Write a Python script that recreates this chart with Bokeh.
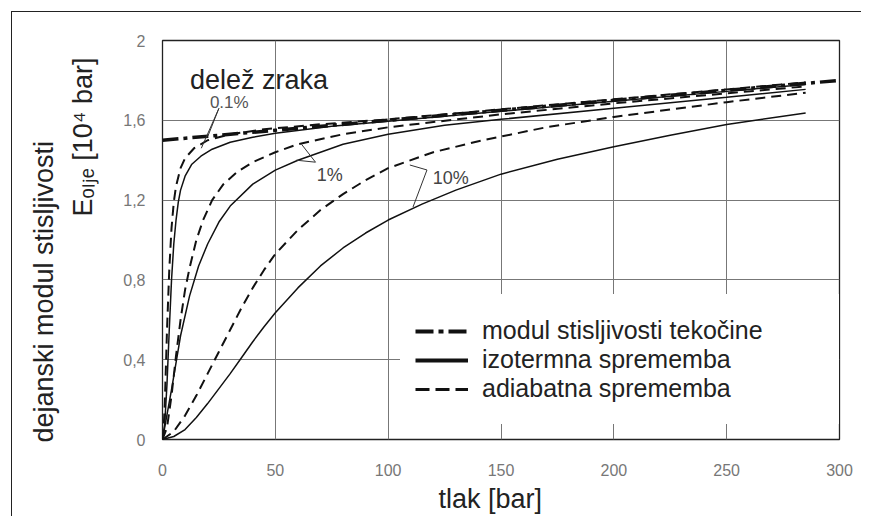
import math
from bokeh.plotting import figure
from bokeh.models import Label, Legend, LegendItem, FixedTicker, Title
from bokeh.embed import file_html
from bokeh.resources import INLINE

# ---------------- data ----------------
x_ticks = [0, 50, 100, 150, 200, 250, 300]
y_ticks = [0, 0.4, 0.8, 1.2, 1.6, 2.0]
y_tick_labels = ["0", "0,4", "0,8", "1,2", "1,6", "2"]

fluid_p = [0, 50, 100, 150, 200, 250, 300]
fluid_E = [1.50, 1.55, 1.60, 1.65, 1.70, 1.75, 1.80]

iso01_p = [0, 1, 2, 3, 4, 5, 6, 7, 8, 10, 13, 17, 22, 30, 40, 50, 75, 100, 150, 200, 250, 285]
iso01_E = [0, 0.08, 0.28, 0.55, 0.80, 0.98, 1.10, 1.19, 1.25, 1.32, 1.38, 1.42, 1.455, 1.49,
           1.515, 1.535, 1.57, 1.595, 1.645, 1.695, 1.745, 1.78]

adi01_p = [0, 0.5, 1, 1.5, 2, 3, 4, 5, 6, 8, 10, 14, 20, 30, 45, 70, 100, 150, 200, 250, 285]
adi01_E = [0, 0.05, 0.18, 0.36, 0.55, 0.85, 1.06, 1.19, 1.27, 1.36, 1.41, 1.46, 1.50, 1.53,
           1.555, 1.58, 1.605, 1.655, 1.705, 1.755, 1.79]

iso1_p = [0, 4, 8, 12, 16, 20, 25, 30, 40, 50, 60, 80, 100, 125, 150, 200, 250, 285]
iso1_E = [0, 0.25, 0.52, 0.72, 0.87, 0.98, 1.09, 1.17, 1.28, 1.35, 1.40, 1.48, 1.53, 1.575,
          1.605, 1.66, 1.715, 1.755]

adi1_p = [0, 2, 4, 6, 8, 10, 12, 15, 18, 22, 27, 33, 40, 50, 60, 80, 100, 150, 200, 250, 285]
adi1_E = [0, 0.06, 0.22, 0.42, 0.60, 0.75, 0.86, 1.00, 1.10, 1.20, 1.28, 1.34, 1.39, 1.44,
          1.48, 1.53, 1.565, 1.63, 1.685, 1.735, 1.77]

iso10_p = [0, 5, 10, 15, 20, 25, 30, 35, 40, 45, 50, 60, 70, 80, 90, 100, 115, 130, 150,
           175, 200, 225, 250, 285]
iso10_E = [0, 0.015, 0.05, 0.11, 0.18, 0.255, 0.33, 0.41, 0.49, 0.565, 0.635, 0.76, 0.87,
           0.96, 1.035, 1.10, 1.18, 1.25, 1.33, 1.405, 1.467, 1.525, 1.579, 1.637]

adi10_p = [0, 5, 10, 15, 20, 25, 30, 35, 40, 45, 50, 60, 70, 80, 90, 100, 120, 140, 170,
           200, 250, 285]
adi10_E = [0, 0.04, 0.12, 0.22, 0.33, 0.44, 0.55, 0.66, 0.76, 0.85, 0.93, 1.05, 1.15, 1.23,
           1.30, 1.36, 1.44, 1.495, 1.565, 1.617, 1.691, 1.738]

legend_labels = ["modul stisljivosti tekočine", "izotermna sprememba", "adiabatna sprememba"]
x_title = "tlak [bar]"
y_title_1 = "dejanski modul stisljivosti"
y_title_2 = "E\u2092\u2097\u2c7c\u2091 [10\u2074 bar]"

# leader lines of the annotations (data coordinates)
lead01_p = [[25.0, 20.1], [25.0, 17.2]]
lead01_E = [[1.66, 1.52], [1.66, 1.46]]
lead1_p = [[67.8, 61.6], [67.8, 59.3]]
lead1_E = [[1.39, 1.48], [1.39, 1.40]]
lead10_p = [109.6, 117.2, 111.0]
lead10_E = [1.376, 1.351, 1.165]

INK = "#111111"
FONT = "Liberation Sans"
NAN = float("nan")

p = figure(width=850, height=505, x_range=(0, 300), y_range=(0, 2),
           output_backend="svg", toolbar_location=None,
           min_border_left=150, min_border_top=28, min_border_right=23,
           min_border_bottom=78)
p.styles = {"margin-left": "11px", "margin-top": "11px",
            "border-left": "1px solid #222", "border-top": "1px solid #222"}
p.background_fill_color = "white"
p.border_fill_color = "white"
p.outline_line_color = "#222222"
p.outline_line_width = 1.3

for ax in (p.xaxis, p.yaxis):
    ax.axis_line_color = None
    ax.major_tick_line_color = None
    ax.minor_tick_line_color = None
    ax.major_label_text_font = FONT
    ax.major_label_text_font_size = "16px"
    ax.major_label_text_color = "#777777"
p.xaxis.ticker = FixedTicker(ticks=x_ticks)
p.yaxis.ticker = FixedTicker(ticks=y_ticks)
p.yaxis.major_label_overrides = {t: l for t, l in zip(y_ticks, y_tick_labels)}
p.xaxis.major_label_standoff = 18
p.yaxis.major_label_standoff = 11
p.xgrid.ticker = FixedTicker(ticks=x_ticks)
p.ygrid.ticker = FixedTicker(ticks=y_ticks)
for g in (p.xgrid, p.ygrid):
    g.grid_line_color = "#777777"
    g.grid_line_width = 1

# x axis title, shifted a little left of the centre as in the reference
tx = Title(text=x_title, align="left", offset=276, standoff=6,
           text_font=FONT, text_font_size="27px", text_font_style="normal",
           text_color="#222222")
p.add_layout(tx, "below")

# y axis titles as side titles (inner one first)
t2 = Title(text=y_title_2, align="right", offset=17, standoff=45,
           text_font=FONT, text_font_size="27px", text_font_style="normal",
           text_color="#222222")
t1 = Title(text=y_title_1, align="left", offset=-3, standoff=-30,
           text_font=FONT, text_font_size="27px", text_font_style="normal",
           text_color="#222222")
p.add_layout(t2, "left")
p.add_layout(t1, "left")

# curves
p.line(iso10_p, iso10_E, line_color=INK, line_width=1.5)
p.line(adi10_p, adi10_E, line_color=INK, line_width=2, line_dash="10 6")
p.line(iso1_p, iso1_E, line_color=INK, line_width=1.5)
p.line(adi1_p, adi1_E, line_color=INK, line_width=2, line_dash="10 6")
p.line(iso01_p, iso01_E, line_color=INK, line_width=1.5)
p.line(adi01_p, adi01_E, line_color=INK, line_width=2, line_dash="10 6")
p.line(fluid_p, fluid_E, line_color=INK, line_width=3.5, line_dash="16 5 4 5")

# leader lines
p.multi_line(lead01_p, lead01_E, line_color="#333333", line_width=1)
p.multi_line(lead1_p, lead1_E, line_color="#333333", line_width=1)
p.line(lead10_p, lead10_E, line_color="#333333", line_width=1)

# legend: a white panel behind, then one transparent single-row legend per entry
r_bg = p.line([NAN], [NAN], line_alpha=0)
bg = Legend(items=[LegendItem(label=" ", renderers=[r_bg])],
            location=(238, 15), glyph_width=438, glyph_height=130, label_height=20,
            label_standoff=0, spacing=0, padding=0, margin=0,
            label_text_font_size="8px", border_line_color=None,
            background_fill_color="white", background_fill_alpha=1.0)
p.add_layout(bg)

r_a = p.line([NAN], [NAN], line_color=INK, line_width=4, line_dash="18 5 5 5")
r_b = p.line([NAN], [NAN], line_color=INK, line_width=4)
r_c = p.line([NAN], [NAN], line_color=INK, line_width=3, line_dash="14 6")
legend_rows = [(r_a, 94), (r_b, 65), (r_c, 36)]
for (rend, ypos), text in zip(legend_rows, legend_labels):
    lg = Legend(items=[LegendItem(label=text, renderers=[rend])],
                location=(253, ypos), orientation="vertical",
                glyph_width=53, glyph_height=20, label_height=25,
                label_standoff=14, spacing=0, padding=0, margin=0,
                label_text_font=FONT, label_text_font_size="25px",
                label_text_color="#222222",
                border_line_color=None, background_fill_alpha=0.0)
    p.add_layout(lg)

# annotations inside the plot
def lab(x, y, text, size, color="#222222"):
    p.add_layout(Label(x=x, y=y, text=text, text_font=FONT, text_font_size=size,
                       text_color=color, text_align="left",
                       text_baseline="alphabetic"))

lab(12.2, 1.80, "delež zraka", "27px")
lab(21.0, 1.69, "0.1%", "17px", color="#555555")
lab(68.4, 1.326, "1%", "18px", color="#444444")
lab(119.8, 1.311, "10%", "18px", color="#444444")

open("out.html", "w").write(file_html(p, INLINE))
